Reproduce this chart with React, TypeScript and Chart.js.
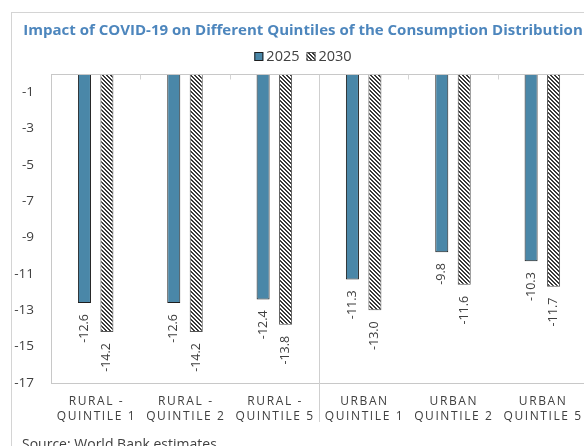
import React, { useEffect, useRef } from "react";
import { Chart, registerables } from "chart.js";

Chart.register(...registerables);

const chartTitle = "Impact of COVID-19 on Different Quintiles of the Consumption Distribution";
const sourceNote = "Source: World Bank estimates";
const categories: string[][] = [
  ["RURAL -", "QUINTILE 1"],
  ["RURAL -", "QUINTILE 2"],
  ["RURAL -", "QUINTILE 5"],
  ["URBAN", "QUINTILE 1"],
  ["URBAN", "QUINTILE 2"],
  ["URBAN", "QUINTILE 5"],
];
const seriesNames = ["2025", "2030"];
const values2025 = [-12.6, -12.6, -12.4, -11.3, -9.8, -10.3];
const values2030 = [-14.2, -14.2, -13.8, -13.0, -11.6, -11.7];
const yTicks = [-1, -3, -5, -7, -9, -11, -13, -15, -17];
const yMin = -17;
const yMax = 0;
const groupSplitAfter = 2; // separator between rural and urban groups

const FONT = '"Open Sans", "Noto Sans", sans-serif';
const TEXT = "#404040";
const AXIS = "#c8c8c8";
const BLUE = "#4a87a8";
const TITLE_BLUE = "#4d86bd";

function makeHatch(): CanvasPattern {
  const c = document.createElement("canvas");
  c.width = 4;
  c.height = 4;
  const g = c.getContext("2d")!;
  g.fillStyle = "#ffffff";
  g.fillRect(0, 0, 4, 4);
  g.fillStyle = "#3a3a3a";
  for (let i = 0; i < 4; i++) {
    g.fillRect(i, i, 1, 1);
    g.fillRect((i + 1) % 4, i, 1, 1);
  }
  return g.createPattern(c, "repeat")!;
}

export default function App() {
  const ref = useRef<HTMLCanvasElement | null>(null);

  useEffect(() => {
    const canvas = ref.current;
    if (!canvas) return;
    const hatch = makeHatch();

    const decor = {
      id: "decor",
      afterDatasetsDraw(chart: any) {
        const ctx = chart.ctx as CanvasRenderingContext2D;
        ctx.save();
        ctx.font = `12.5px ${FONT}`;
        ctx.fillStyle = TEXT;
        ctx.textAlign = "right";
        ctx.textBaseline = "middle";
        chart.data.datasets.forEach((ds: any, di: number) => {
          const meta = chart.getDatasetMeta(di);
          meta.data.forEach((bar: any, i: number) => {
            const v = ds.data[i] as number;
            ctx.save();
            ctx.translate(bar.x, bar.y + 11);
            ctx.rotate(-Math.PI / 2);
            ctx.fillText(v.toFixed(1), 0, 0);
            ctx.restore();
          });
        });
        ctx.restore();
      },
      afterDraw(chart: any) {
        const ctx = chart.ctx as CanvasRenderingContext2D;
        const x = chart.scales.x;
        const y = chart.scales.y;
        const area = chart.chartArea;
        const y0 = Math.round(y.getPixelForValue(0)) + 0.5;
        ctx.save();
        // top (zero) axis line
        ctx.strokeStyle = AXIS;
        ctx.lineWidth = 1;
        ctx.beginPath();
        ctx.moveTo(area.left, y0);
        ctx.lineTo(area.right, y0);
        ctx.stroke();
        // boundary tick marks and separator
        for (let i = 0; i < categories.length - 1; i++) {
          const bx = Math.round((x.getPixelForValue(i) + x.getPixelForValue(i + 1)) / 2) + 0.5;
          ctx.beginPath();
          if (i === groupSplitAfter) {
            ctx.strokeStyle = "#cfcfcf";
            ctx.moveTo(bx, y0);
            ctx.lineTo(bx, area.bottom + 39);
          } else {
            ctx.strokeStyle = "#d4d4d4";
            ctx.moveTo(bx, y0);
            ctx.lineTo(bx, y0 + 5);
          }
          ctx.stroke();
        }
        // category labels
        ctx.fillStyle = TEXT;
        ctx.font = `12px ${FONT}`;
        (ctx as any).letterSpacing = "1.6px";
        ctx.textAlign = "center";
        ctx.textBaseline = "alphabetic";
        categories.forEach((lines, i) => {
          const cx = x.getPixelForValue(i) + 0.8;
          lines.forEach((t, li) => {
            ctx.fillText(t, cx, area.bottom + 21.5 + li * 15);
          });
        });
        (ctx as any).letterSpacing = "0px";
        // title
        ctx.font = `bold 100px ${FONT}`;
        const tw = ctx.measureText(chartTitle).width;
        const ts = (100 * 560) / tw;
        ctx.font = `bold ${ts}px ${FONT}`;
        ctx.fillStyle = TITLE_BLUE;
        ctx.textAlign = "center";
        ctx.fillText(chartTitle, chart.width / 2, 22);
        // legend
        ctx.font = `14.5px ${FONT}`;
        const box = 9;
        const w1 = ctx.measureText(seriesNames[0]).width;
        const w2 = ctx.measureText(seriesNames[1]).width;
        const total = box + 3 + w1 + 7 + box + 3 + w2;
        let lx = chart.width / 2 - total / 2;
        const ly = 39;
        const fills = [BLUE, hatch];
        const borders = ["#1e1e1e", "#555555"];
        ctx.textAlign = "left";
        [w1, w2].forEach((w, k) => {
          ctx.fillStyle = fills[k] as any;
          ctx.fillRect(lx, ly, box, box);
          ctx.strokeStyle = borders[k];
          ctx.strokeRect(lx + 0.5, ly + 0.5, box - 1, box - 1);
          lx += box + 3;
          ctx.fillStyle = TEXT;
          ctx.fillText(seriesNames[k], lx, ly + 9);
          lx += w + 7;
        });
        // source
        ctx.font = `14px ${FONT}`;
        ctx.fillStyle = TEXT;
        ctx.fillText(sourceNote, 10, 435.5);
        ctx.restore();
      },
    };

    const chart = new Chart(canvas, {
      type: "bar",
      data: {
        labels: categories.map((c) => c.join(" ")),
        datasets: [
          {
            label: seriesNames[0],
            data: values2025,
            backgroundColor: BLUE,
            borderColor: "#1e1e1e",
            borderWidth: 1,
            categoryPercentage: 0.503,
            barPercentage: 0.58,
          },
          {
            label: seriesNames[1],
            data: values2030,
            backgroundColor: hatch as any,
            borderColor: "#555555",
            borderWidth: 1,
            categoryPercentage: 0.503,
            barPercentage: 0.58,
          },
        ],
      },
      options: {
        responsive: false,
        animation: false,
        layout: { padding: { top: 61, left: 0, right: 7, bottom: 80 } },
        plugins: {
          legend: { display: false },
          title: { display: false },
          tooltip: { enabled: false },
        },
        scales: {
          x: {
            grid: { display: false, drawTicks: false },
            border: { display: true, color: AXIS },
            ticks: { display: false },
            afterFit: (s: any) => {
              s.height = 0;
            },
          },
          y: {
            min: yMin,
            max: yMax,
            grid: { display: false, drawTicks: false },
            border: { display: true, color: AXIS },
            afterBuildTicks: (s: any) => {
              s.ticks = yTicks.map((v) => ({ value: v }));
            },
            ticks: {
              padding: 17,
              color: TEXT,
              font: { family: FONT, size: 13.5 },
              callback: (v: any) => String(v),
            },
            afterFit: (s: any) => {
              s.width = 39;
            },
          },
        },
      },
      plugins: [decor],
    });
    return () => chart.destroy();
  }, []);

  return (
    <div style={{ position: "fixed", left: 0, top: 0, width: 584, height: 446, overflow: "hidden", background: "#fff" }}>
      <div style={{ position: "absolute", left: 11, top: 12, border: "1px solid #d4d4d4", width: 582, height: 450 }}>
        <canvas ref={ref} width={582} height={450} style={{ display: "block", width: 582, height: 450 }} />
      </div>
    </div>
  );
}
